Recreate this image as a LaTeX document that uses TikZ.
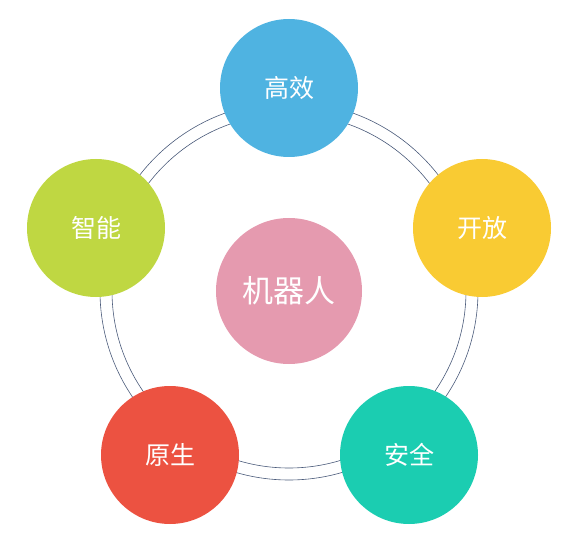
\documentclass[tikz,border=0pt]{standalone}
\usepackage{fontspec}
\newfontfamily\cjk{Noto Sans CJK SC}
\definecolor{cblue}{HTML}{4FB3E1}
\definecolor{cyellow}{HTML}{F9CB33}
\definecolor{cteal}{HTML}{1BCDB1}
\definecolor{cred}{HTML}{EC5241}
\definecolor{cgreen}{HTML}{BFD742}
\definecolor{cpink}{HTML}{E59AAF}
\definecolor{cring}{HTML}{4A5A7A}
\begin{document}
\begin{tikzpicture}[x=1pt,y=-1pt,
  outer/.style={circle,minimum size=138pt,inner sep=0pt,text=white,font=\cjk\fontsize{25}{25}\selectfont},
  center/.style={circle,minimum size=146pt,inner sep=0pt,text=white,font=\cjk\fontsize{31}{31}\selectfont},
  ring/.style={draw=cring,line width=0.6pt}]
\useasboundingbox (0,0) rectangle (578,537);
\coordinate (o) at (289,291);
\draw[ring] (o) circle (177);
\draw[ring] (o) circle (189);
\node[center,fill=cpink] (robot) at (o) {机器人};
\node[outer,fill=cblue] (gx) at (289,88) {高效};
\node[outer,fill=cyellow] (kf) at (482,228) {开放};
\node[outer,fill=cteal] (aq) at (409,455) {安全};
\node[outer,fill=cred] (ys) at (170,455) {原生};
\node[outer,fill=cgreen] (zn) at (96,228) {智能};
\end{tikzpicture}
\end{document}
